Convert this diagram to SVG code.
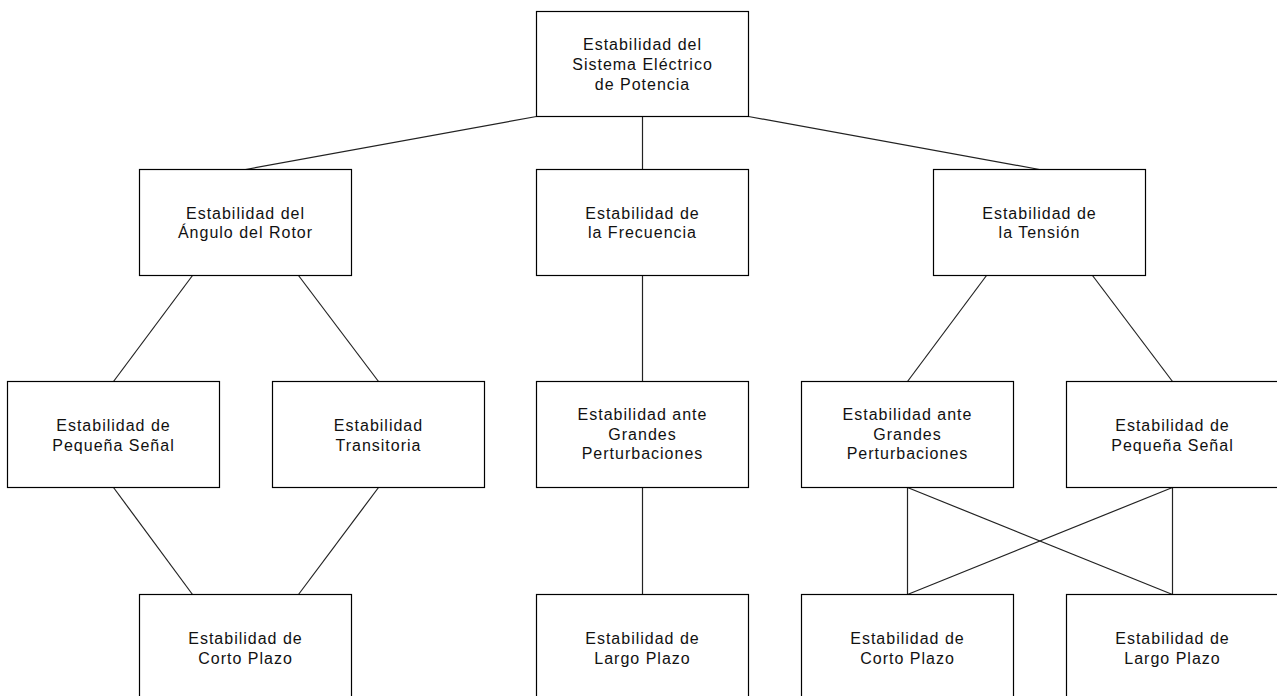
<svg xmlns="http://www.w3.org/2000/svg" width="1277" height="696" viewBox="0 0 1277 696">
  <style>
    .box rect { fill: #ffffff; stroke: #000000; stroke-width: 1.2; }
    .box text { font-family: "Liberation Sans", Arial, sans-serif; font-size: 16px; letter-spacing: 1px; fill: #111111; text-anchor: middle; }
    #connectors line { stroke: #222222; stroke-width: 1.2; fill: none; }
  </style>
  <rect width="1277" height="696" fill="#ffffff"/>

  <g id="connectors">
    <line x1="536.5" y1="116.5" x2="245.5" y2="169.5"/>
    <line x1="642.5" y1="116.5" x2="642.5" y2="169.5"/>
    <line x1="748.5" y1="116.5" x2="1039.5" y2="169.5"/>
    <line x1="192.5" y1="275.5" x2="113.5" y2="381.5"/>
    <line x1="298.5" y1="275.5" x2="378.5" y2="381.5"/>
    <line x1="642.5" y1="275.5" x2="642.5" y2="381.5"/>
    <line x1="986.5" y1="275.5" x2="907.5" y2="381.5"/>
    <line x1="1092.5" y1="275.5" x2="1172.5" y2="381.5"/>
    <line x1="113.5" y1="487.5" x2="192.5" y2="594.5"/>
    <line x1="378.5" y1="487.5" x2="298.5" y2="594.5"/>
    <line x1="642.5" y1="487.5" x2="642.5" y2="594.5"/>
    <line x1="907.5" y1="487.5" x2="907.5" y2="594.5"/>
    <line x1="907.5" y1="487.5" x2="1172.5" y2="594.5"/>
    <line x1="1172.5" y1="487.5" x2="907.5" y2="594.5"/>
    <line x1="1172.5" y1="487.5" x2="1172.5" y2="594.5"/>
  </g>

  <g id="sistema" class="box">
    <rect x="536.5" y="11.5" width="212" height="105"/>
    <text x="642.5" y="50">Estabilidad del</text>
    <text x="642.5" y="70">Sistema Eléctrico</text>
    <text x="642.5" y="89.5">de Potencia</text>
  </g>

  <g id="angulo" class="box">
    <rect x="139.5" y="169.5" width="212" height="106"/>
    <text x="245.5" y="218.5">Estabilidad del</text>
    <text x="245.5" y="238">Ángulo del Rotor</text>
  </g>

  <g id="frecuencia" class="box">
    <rect x="536.5" y="169.5" width="212" height="106"/>
    <text x="642.5" y="218.5">Estabilidad de</text>
    <text x="642.5" y="238">la Frecuencia</text>
  </g>

  <g id="tension" class="box">
    <rect x="933.5" y="169.5" width="212" height="106"/>
    <text x="1039.5" y="218.5">Estabilidad de</text>
    <text x="1039.5" y="238">la Tensión</text>
  </g>

  <g id="angulo-pequena" class="box">
    <rect x="7.5" y="381.5" width="212" height="106"/>
    <text x="113.5" y="431">Estabilidad de</text>
    <text x="113.5" y="450.5">Pequeña Señal</text>
  </g>

  <g id="angulo-transitoria" class="box">
    <rect x="272.5" y="381.5" width="212" height="106"/>
    <text x="378.5" y="431">Estabilidad</text>
    <text x="378.5" y="450.5">Transitoria</text>
  </g>

  <g id="frecuencia-grandes" class="box">
    <rect x="536.5" y="381.5" width="212" height="106"/>
    <text x="642.5" y="420">Estabilidad ante</text>
    <text x="642.5" y="439.5">Grandes</text>
    <text x="642.5" y="459">Perturbaciones</text>
  </g>

  <g id="tension-grandes" class="box">
    <rect x="801.5" y="381.5" width="212" height="106"/>
    <text x="907.5" y="420">Estabilidad ante</text>
    <text x="907.5" y="439.5">Grandes</text>
    <text x="907.5" y="459">Perturbaciones</text>
  </g>

  <g id="tension-pequena" class="box">
    <rect x="1066.5" y="381.5" width="212" height="106"/>
    <text x="1172.5" y="431">Estabilidad de</text>
    <text x="1172.5" y="450.5">Pequeña Señal</text>
  </g>

  <g id="angulo-corto" class="box">
    <rect x="139.5" y="594.5" width="212" height="106"/>
    <text x="245.5" y="644">Estabilidad de</text>
    <text x="245.5" y="664">Corto Plazo</text>
  </g>

  <g id="frecuencia-largo" class="box">
    <rect x="536.5" y="594.5" width="212" height="106"/>
    <text x="642.5" y="644">Estabilidad de</text>
    <text x="642.5" y="664">Largo Plazo</text>
  </g>

  <g id="tension-corto" class="box">
    <rect x="801.5" y="594.5" width="212" height="106"/>
    <text x="907.5" y="644">Estabilidad de</text>
    <text x="907.5" y="664">Corto Plazo</text>
  </g>

  <g id="tension-largo" class="box">
    <rect x="1066.5" y="594.5" width="212" height="106"/>
    <text x="1172.5" y="644">Estabilidad de</text>
    <text x="1172.5" y="664">Largo Plazo</text>
  </g>
</svg>
